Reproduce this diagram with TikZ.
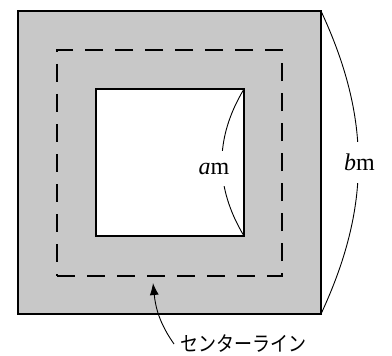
\documentclass[tikz,border=0pt]{standalone}
\usepackage{fontspec}
\setmainfont{Liberation Serif}
\newfontfamily\jpfont{Noto Sans CJK JP}
\usetikzlibrary{arrows.meta}
\definecolor{bandgray}{RGB}{200,200,200}
\begin{document}
\begin{tikzpicture}[x=1pt,y=-1pt,
  sqbox/.style={draw, line width=2.8pt, inner sep=0pt, outer sep=0pt},
  cline/.style={draw, line width=1.8pt, dash pattern=on 18pt off 12pt, inner sep=0pt, outer sep=0pt},
  dimline/.style={line width=0.9pt},
  dimlab/.style={fill=white, inner xsep=1pt, inner ysep=12pt, font=\fontsize{24}{24}\selectfont}]
\useasboundingbox (0,0) rectangle (392,356);
\node[sqbox, fill=bandgray, minimum width=303pt, minimum height=303pt] (outer) at (169.5,162.5) {};
\node[cline, minimum width=225pt, minimum height=226pt] (cl) at (169.5,163) {};
\node[sqbox, fill=white, line width=2.4pt, minimum width=148pt, minimum height=147pt] (inner) at (170,162.5) {};
\draw[dimline] (inner.north east) to[bend right=31] node[dimlab, xshift=-8pt, yshift=-6pt] (alab) {{\itshape a}m} (inner.south east);
\draw[dimline] (outer.north east) to[bend left=25] node[dimlab, xshift=1pt] (blab) {{\itshape b}m} (outer.south east);
\node[font=\jpfont\fontsize{18}{18}\selectfont, inner sep=0pt, anchor=west, yscale=1.15, transform shape] (txt) at (180,344) {センターライン};
\coordinate (tip) at (153,283);
\draw[dimline, -{Latex[length=12pt,width=9pt]}] ([xshift=-6pt,yshift=0pt]txt.west) to[out=125,in=-84] (tip);
\end{tikzpicture}
\end{document}
